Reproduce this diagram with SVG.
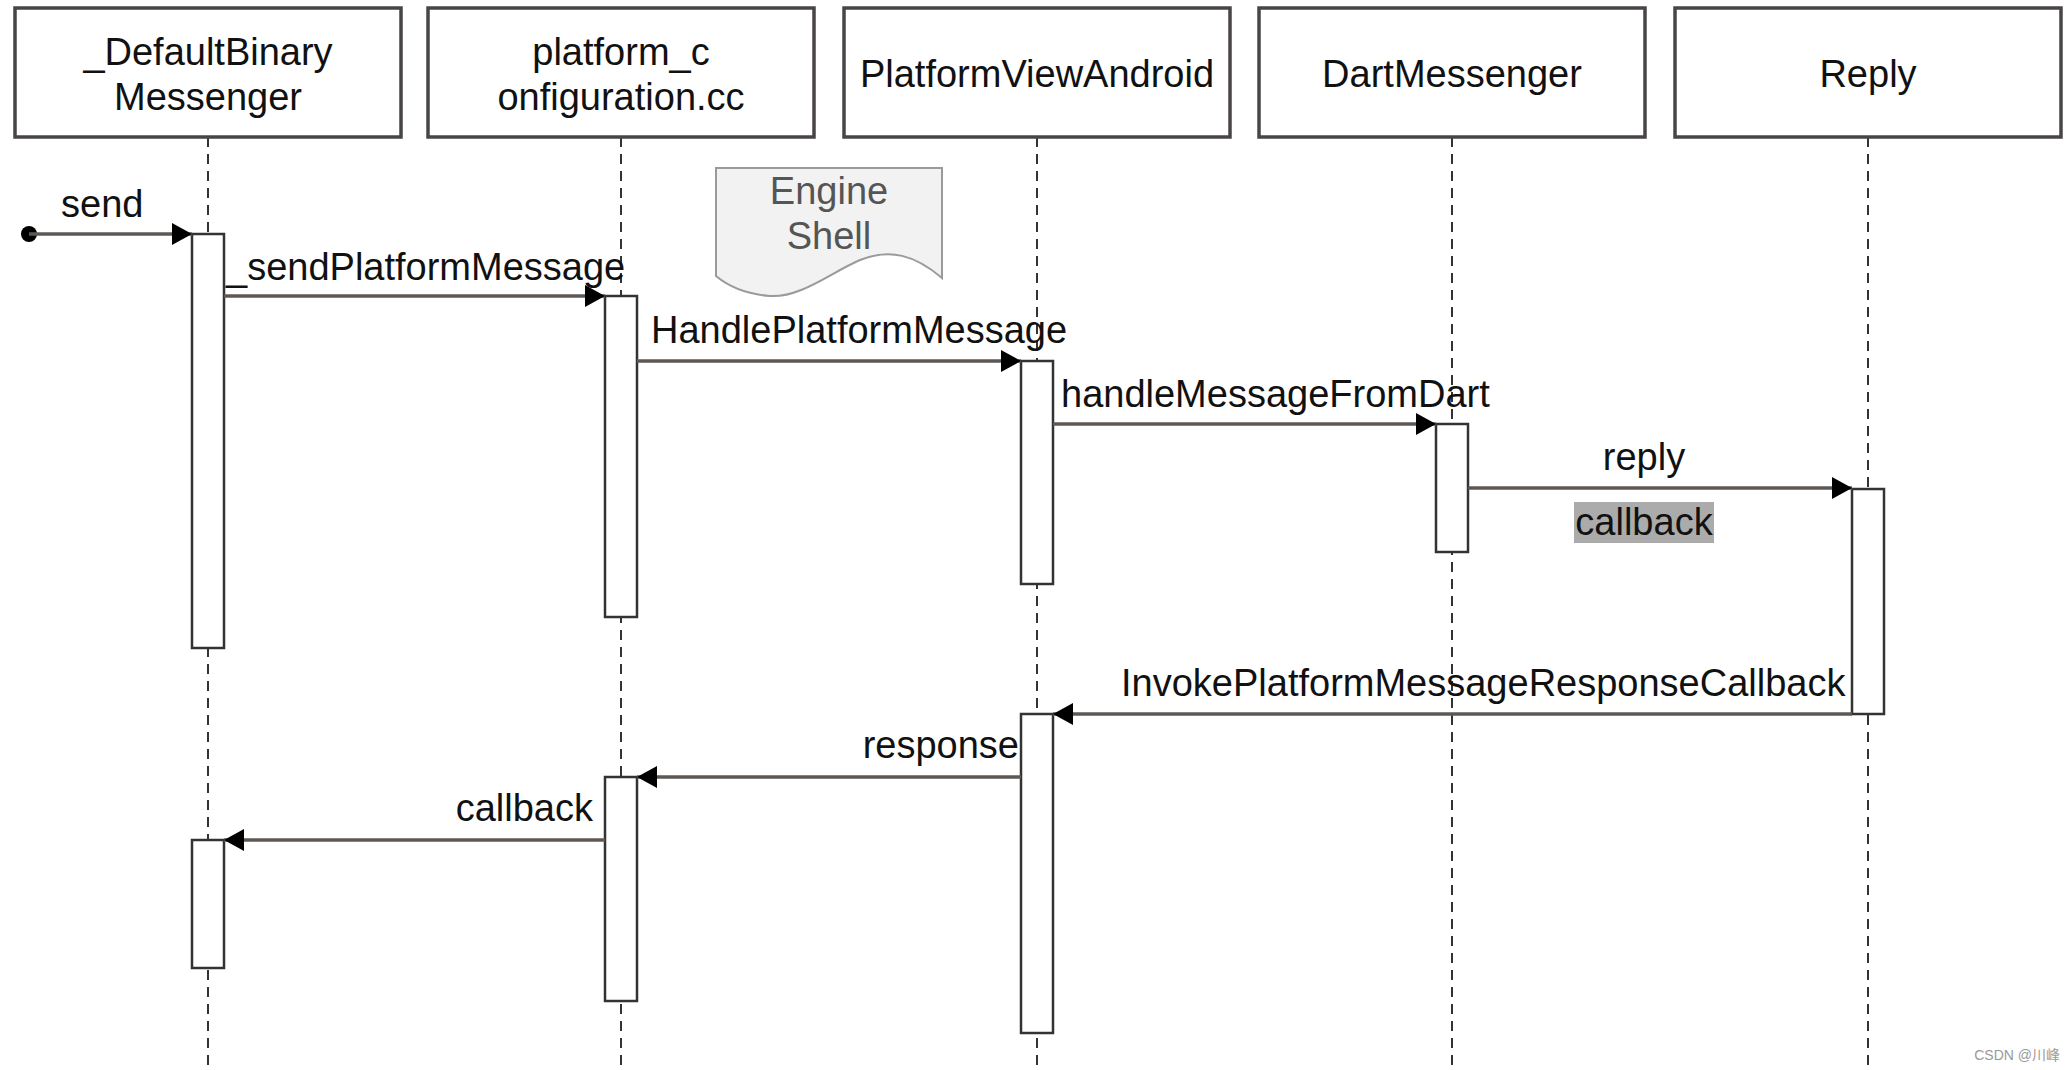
<svg xmlns="http://www.w3.org/2000/svg" width="2072" height="1070" viewBox="0 0 2072 1070">
<style>
text{font-family:"Liberation Sans",Arial,Helvetica,sans-serif;font-size:38px;fill:#111}
.box{fill:#fff;stroke:#4a4545;stroke-width:3.5}
.life{stroke:#333;stroke-width:2;stroke-dasharray:10 7;fill:none}
.act{fill:#fff;stroke:#333;stroke-width:2.5}
.msg{stroke:#5e5854;stroke-width:3.5;fill:none;marker-end:url(#arr)}
.c{text-anchor:middle}
.e{text-anchor:end}
</style>
<defs>
<marker id="arr" viewBox="0 0 20 22" refX="20" refY="11" markerWidth="20" markerHeight="22" orient="auto" markerUnits="userSpaceOnUse">
<path d="M0,0 L20,11 L0,22 Z" fill="#000"/>
</marker>
</defs>
<rect width="2072" height="1070" fill="#fff"/>

<g id="node-defaultbinarymessenger">
<line class="life" x1="208" y1="137" x2="208" y2="1070"/>
<rect class="box" x="15" y="8" width="386" height="129"/>
<text class="c" x="208" y="65">_DefaultBinary</text>
<text class="c" x="208" y="110">Messenger</text>
<rect class="act" x="192" y="234" width="32" height="414"/>
<rect class="act" x="192" y="840" width="32" height="128"/>
</g>

<g id="node-platformconfiguration">
<line class="life" x1="621" y1="137" x2="621" y2="1070"/>
<rect class="box" x="428" y="8" width="386" height="129"/>
<text class="c" x="621" y="65">platform_c</text>
<text class="c" x="621" y="110">onfiguration.cc</text>
<rect class="act" x="605" y="296" width="32" height="321"/>
<rect class="act" x="605" y="777" width="32" height="224"/>
</g>

<g id="node-platformviewandroid">
<line class="life" x1="1037" y1="137" x2="1037" y2="1070"/>
<rect class="box" x="844" y="8" width="386" height="129"/>
<text class="c" x="1037" y="87">PlatformViewAndroid</text>
<rect class="act" x="1021" y="361" width="32" height="223"/>
<rect class="act" x="1021" y="714" width="32" height="319"/>
</g>

<g id="node-dartmessenger">
<line class="life" x1="1452" y1="137" x2="1452" y2="1070"/>
<rect class="box" x="1259" y="8" width="386" height="129"/>
<text class="c" x="1452" y="87">DartMessenger</text>
<rect class="act" x="1436" y="424" width="32" height="128"/>
</g>

<g id="node-reply">
<line class="life" x1="1868" y1="137" x2="1868" y2="1070"/>
<rect class="box" x="1675" y="8" width="386" height="129"/>
<text class="c" x="1868" y="87">Reply</text>
<rect class="act" x="1852" y="489" width="32" height="225"/>
</g>

<g id="note-engine-shell">
<path d="M716,168 L942,168 L942,278 C915,255 890,248 860,260 C830,273 800,298 770,296 C745,294 728,286 716,276 Z" fill="#f2f2f2" stroke="#9a9a9a" stroke-width="2"/>
<text class="c" x="829" y="204" style="fill:#555">Engine</text>
<text class="c" x="829" y="249" style="fill:#555">Shell</text>
</g>

<g id="connectors">
<circle cx="29" cy="234" r="8" fill="#000"/>
<line class="msg" x1="29" y1="234" x2="192" y2="234"/>
<line class="msg" x1="224" y1="296" x2="605" y2="296"/>
<line class="msg" x1="637" y1="361" x2="1021" y2="361"/>
<line class="msg" x1="1053" y1="424" x2="1436" y2="424"/>
<line class="msg" x1="1468" y1="488" x2="1852" y2="488"/>
<line class="msg" x1="1852" y1="714" x2="1053" y2="714"/>
<line class="msg" x1="1021" y1="777" x2="637" y2="777"/>
<line class="msg" x1="605" y1="840" x2="224" y2="840"/>
</g>

<g id="labels">
<text x="61" y="217">send</text>
<text x="226" y="280">_sendPlatformMessage</text>
<text x="651" y="343">HandlePlatformMessage</text>
<text x="1061" y="407">handleMessageFromDart</text>
<text class="c" x="1644" y="470">reply</text>
<rect x="1574" y="502" width="140" height="41" fill="#ababab"/>
<text class="c" x="1644" y="535">callback</text>
<text x="1121" y="696">InvokePlatformMessageResponseCallback</text>
<text class="e" x="1019" y="758">response</text>
<text class="e" x="593" y="821">callback</text>
</g>

<text class="e" x="2060" y="1060" style="font-size:14px;fill:#999;font-family:'Liberation Sans','Noto Sans CJK SC',sans-serif">CSDN @川峰</text>
</svg>
